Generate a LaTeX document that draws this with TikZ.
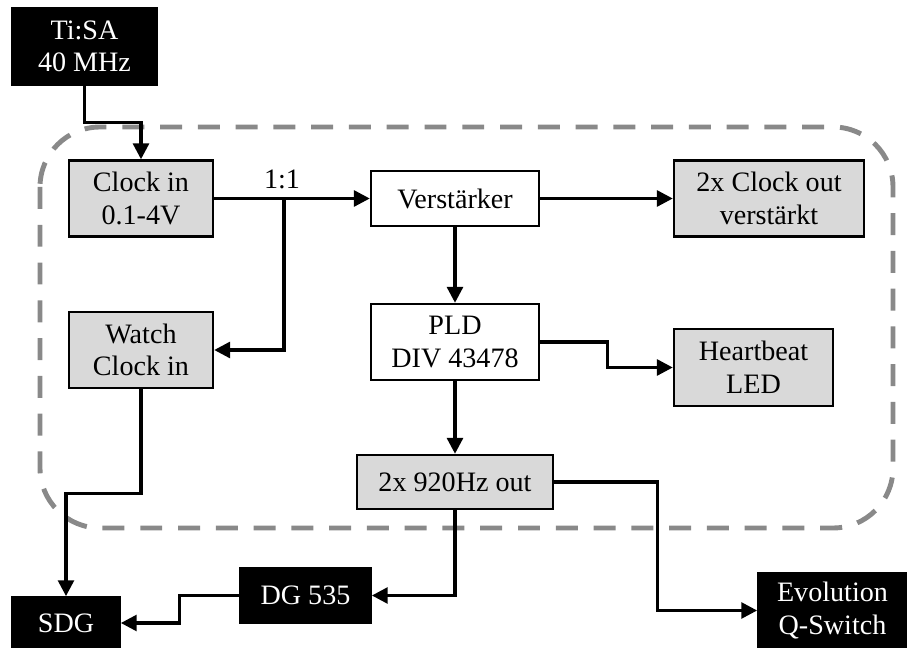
\documentclass[tikz,border=0pt]{standalone}
\usepackage{fontspec}
\setmainfont{Liberation Serif}
\usetikzlibrary{arrows.meta}
\definecolor{boxgray}{HTML}{D9D9D9}
\definecolor{framegray}{HTML}{898989}

\begin{document}
\begin{tikzpicture}[x=0.02cm, y=-0.02cm,
    every node/.style={font=\fontsize{16}{18.5}\selectfont, align=center, inner sep=0pt},
    extbox/.style={rectangle, fill=black, text=white, draw=black, line width=1pt},
    modbox/.style={rectangle, draw, fill=boxgray, line width=1.4pt},
    plainbox/.style={rectangle, draw, fill=white, line width=1.4pt},
    conn/.style={-{Triangle[length=9pt, width=9pt]}, line width=1.8pt}]
    \useasboundingbox (0,0) rectangle (907,648);
    % Board frame
    \draw[framegray, line width=2.8pt, dash pattern=on 12.5pt off 9pt, rounded corners=1.2cm]
        (40,127) rectangle (893,528);
    % External devices
    \node[extbox, minimum width=2.9cm, minimum height=1.54cm] (tisa) at (84.5,46.5) {Ti:SA\\40 MHz};
    \node[extbox, minimum width=2.62cm, minimum height=1.1cm] (dg) at (305.5,595.5) {DG 535};
    \node[extbox, minimum width=2.16cm, minimum height=1.04cm] (sdg) at (66,623) {SDG};
    \node[extbox, minimum width=2.98cm, minimum height=1.5cm] (evo) at (832.5,610.5) {Evolution\\Q-Switch};
    % Board
    \node[modbox, minimum width=2.88cm, minimum height=1.52cm] (clkin) at (141,198.5) {Clock in\\0.1-4V};
    \node[modbox, minimum width=2.88cm, minimum height=1.52cm] (watch) at (141,350) {Watch\\Clock in};
    \node[plainbox, minimum width=3.36cm, minimum height=1.1cm] (amp) at (455,198.5) {Verstärker};
    \node[plainbox, minimum width=3.36cm, minimum height=1.52cm] (pld) at (455,342) {PLD\\DIV 43478};
    \node[modbox, minimum width=3.8cm, minimum height=1.52cm] (clkout) at (769,198.5) {2x Clock out\\verstärkt};
    \node[modbox, minimum width=3.18cm, minimum height=1.54cm] (led) at (753.5,367.5) {Heartbeat\\LED};
    \node[modbox, minimum width=3.92cm, minimum height=1.08cm] (out) at (455,482) {2x 920Hz out};
    \node (ratio) at (282,179) {1:1};
    \coordinate (split) at (284,198.5);
    % Arrows
    \draw[conn] (tisa.south) -- ++(0,37) -| (clkin.north);
    \draw[conn] (clkin) -- (amp);
    \draw[conn] (split) |- (watch.east);
    \draw[conn] (amp) -- (clkout);
    \draw[conn] (amp) -- (pld);
    \draw[conn] (pld.east) -- ++(67,0) |- (led.west);
    \draw[conn] (pld) -- (out);
    \draw[conn] (out.south) |- (dg.east);
    \draw[conn] (out.east) -- ++(103,0) |- (evo.west);
    \draw[conn] (watch.south) -- ++(0,104) -| (sdg.north);
    \draw[conn] (dg.west) -- ++(-60,0) |- (sdg.east);
\end{tikzpicture}
\end{document}
